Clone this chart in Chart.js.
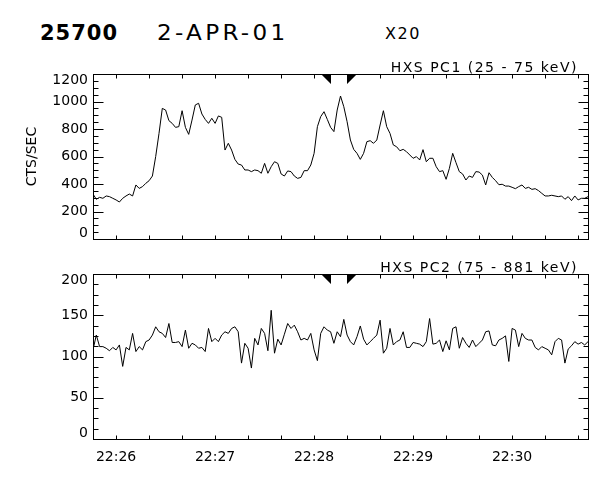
<!DOCTYPE html>
<html>
<head>
<meta charset="utf-8">
<script src="https://cdn.jsdelivr.net/npm/chart.js@4.4.1/dist/chart.umd.min.js"></script>
<style>
  html, body { margin: 0; padding: 0; background: #fff; }
  #wrap { position: relative; width: 600px; height: 480px; overflow: hidden;
          font-family: 'DejaVu Sans', sans-serif; color: #000; }
  .hdr { position: absolute; white-space: nowrap; line-height: 1; }
  #hdr-num  { left: 40px;  top: 23px; font-size: 21px; font-weight: bold; letter-spacing: 1px; }
  #hdr-date { left: 157px; top: 23px; font-size: 21px; letter-spacing: 3px;
              transform: scaleX(1.1); transform-origin: left center; }
  #hdr-x    { left: 385px; top: 26px; font-size: 16px; letter-spacing: 1.5px; }
  canvas { position: absolute; left: 0; }
  #pc1 { top: 0; }
  #pc2 { top: 250px; }
</style>
</head>
<body>
<div id="wrap">
  <div class="hdr" id="hdr-num"></div>
  <div class="hdr" id="hdr-date"></div>
  <div class="hdr" id="hdr-x"></div>
  <canvas id="pc1" width="600" height="250"></canvas>
  <canvas id="pc2" width="600" height="230"></canvas>
</div>
<script>
// ── HXS light curves, two panels ──

const FONT = "'DejaVu Sans', sans-serif";

const HEADER      = ['25700', '2-APR-01', 'X20'];
const START_TIME  = '22:25:46';
const END_TIME    = '22:30:46';
const CADENCE_S   = 2;
const TIME_LABELS = ['22:26', '22:27', '22:28', '22:29', '22:30'];
const MARK_TIMES  = ['22:28:10', '22:28:20'];
const Y_TITLE     = 'CTS/SEC';

const PC1_LABEL = 'HXS PC1 (25 - 75 keV)';
const PC1_TICKS = [0, 200, 400, 600, 800, 1000, 1200];
const PC1_COUNTS = [
  327, 289, 303, 296, 313, 308, 296, 284, 269, 296,
  313, 327, 313, 393, 368, 381, 405, 424, 458, 600,
  768, 950, 938, 861, 841, 812, 817, 933, 812, 761,
  865, 975, 987, 909, 870, 841, 878, 841, 895, 885,
  647, 696, 647, 579, 545, 538, 502, 502, 490, 502,
  497, 478, 550, 478, 526, 562, 550, 473, 458, 495,
  490, 458, 441, 448, 497, 497, 538, 623, 817, 890,
  926, 870, 812, 781, 938, 1040, 962, 853, 720, 652,
  623, 579, 623, 708, 715, 696, 720, 829, 933, 817,
  768, 684, 671, 642, 652, 635, 611, 587, 599, 575,
  650, 562, 587, 587, 526, 490, 497, 434, 514, 623,
  555, 490, 473, 429, 458, 448, 490, 487, 465, 393,
  482, 448, 424, 395, 398, 385, 385, 376, 366, 381,
  393, 368, 376, 361, 366, 352, 332, 313, 313, 318,
  313, 308, 313, 289, 308, 279, 313, 284, 296, 296, 308
];

const PC2_LABEL = 'HXS PC2 (75 - 881 keV)';
const PC2_TICKS = [0, 50, 100, 150, 200];
const PC2_COUNTS = [
  108, 126, 112, 112, 110, 107, 111, 108, 114, 88,
  111, 108, 128, 106, 112, 108, 118, 120, 126, 136,
  130, 128, 123, 140, 117, 117, 118, 112, 132, 110,
  116, 114, 110, 111, 106, 134, 118, 122, 118, 126,
  130, 128, 134, 136, 130, 92, 116, 110, 86, 122,
  114, 134, 128, 107, 156, 104, 121, 114, 127, 140,
  134, 138, 130, 120, 122, 120, 128, 108, 95, 128,
  136, 132, 130, 116, 130, 124, 145, 126, 118, 114,
  124, 137, 121, 114, 118, 122, 126, 144, 104, 110,
  134, 114, 118, 120, 130, 111, 111, 117, 116, 115,
  112, 118, 146, 115, 116, 120, 106, 119, 108, 134,
  136, 110, 123, 116, 111, 120, 112, 116, 120, 130,
  131, 114, 113, 120, 122, 125, 94, 134, 132, 112,
  128, 122, 120, 120, 111, 108, 112, 110, 108, 102,
  118, 122, 120, 92, 109, 113, 118, 115, 117, 114, 118
];

function toSec(s) {
  const p = s.split(':').map(Number);
  return p[0] * 3600 + p[1] * 60 + (p[2] || 0);
}

function toPoints(values) {
  const t0 = toSec(START_TIME);
  return values.map((v, i) => ({ x: t0 + i * CADENCE_S, y: v }));
}

// IDL style frame: box, inward ticks on all four sides, interval marks, channel label
const idlFrame = {
  id: 'idlFrame',
  afterDraw(chart, args, opts) {
    const { ctx, chartArea: a, scales: { x, y } } = chart;
    const L = Math.round(a.left) + 0.5, R = Math.round(a.right) + 0.5;
    const T = Math.round(a.top) + 0.5,  B = Math.round(a.bottom) + 0.5;
    ctx.save();
    ctx.strokeStyle = '#000';
    ctx.fillStyle = '#000';
    ctx.lineWidth = 1;
    ctx.strokeRect(L, T, R - L, B - T);

    ctx.beginPath();
    const major = y.ticks[1].value - y.ticks[0].value;
    const minor = major / opts.yMinor;
    for (let v = y.min; v <= y.max + 1e-6; v += minor) {
      const py = Math.round(y.getPixelForValue(v)) + 0.5;
      const len = Math.abs(v / major - Math.round(v / major)) < 1e-6 ? 10 : 5;
      ctx.moveTo(L, py); ctx.lineTo(L + len, py);
      ctx.moveTo(R, py); ctx.lineTo(R - len, py);
    }
    const first = Math.ceil(x.min / opts.xStep) * opts.xStep;
    for (let t = first; t <= x.max; t += opts.xStep) {
      const px = Math.round(x.getPixelForValue(t)) + 0.5;
      ctx.moveTo(px, B); ctx.lineTo(px, B - 4);
      ctx.moveTo(px, T); ctx.lineTo(px, T + 4);
    }
    ctx.stroke();

    const [m0, m1] = MARK_TIMES.map(s => Math.round(x.getPixelForValue(toSec(s))));
    const top = Math.round(a.top);
    ctx.beginPath();
    ctx.moveTo(m0 - 10, top); ctx.lineTo(m0, top); ctx.lineTo(m0, top + 10); ctx.closePath();
    ctx.moveTo(m1, top); ctx.lineTo(m1 + 10, top); ctx.lineTo(m1, top + 10); ctx.closePath();
    ctx.fill();

    ctx.font = `14px ${FONT}`;
    ctx.letterSpacing = '1.5px';
    ctx.textAlign = 'right';
    ctx.textBaseline = 'alphabetic';
    ctx.fillText(opts.label, a.right - 10, a.top - 2);
    ctx.restore();
  }
};

function yAxis(ticks, title) {
  return {
    min: ticks[0],
    max: ticks[ticks.length - 1],
    afterBuildTicks: s => { s.ticks = ticks.map(v => ({ value: v })); },
    afterFit: s => { s.width = 93; s.paddingTop = 0; s.paddingBottom = 0; },
    grid: { display: false, drawTicks: false },
    border: { display: false },
    ticks: {
      padding: 5,
      autoSkip: false,
      color: '#000',
      font: { family: FONT, size: 14, lineHeight: 0.85 },
      // end labels sit inside the box, as in the original plot
      callback: (v, i, all) => i === 0 ? [String(v), ''] : i === all.length - 1 ? ['', String(v)] : String(v)
    },
    title: {
      display: !!title,
      text: title || '',
      color: '#000',
      font: { family: FONT, size: 14 },
      padding: { top: 24, bottom: 0 }
    }
  };
}

function xAxis(showLabels) {
  return {
    type: 'linear',
    display: showLabels,
    min: toSec(START_TIME),
    max: toSec(END_TIME),
    afterBuildTicks: s => { s.ticks = TIME_LABELS.map(l => ({ value: toSec(l) })); },
    afterFit: s => { s.height = showLabels ? 41 : 0; s.paddingLeft = 0; s.paddingRight = 0; },
    grid: { display: false, drawTicks: false },
    border: { display: false },
    ticks: {
      padding: 10,
      autoSkip: false,
      maxRotation: 0,
      color: '#000',
      font: { family: FONT, size: 14 },
      callback: (v, i) => TIME_LABELS[i]
    }
  };
}

function buildPanel(id, values, ticks, label, yTitle, showX, padding) {
  return new Chart(document.getElementById(id), {
    type: 'line',
    data: {
      datasets: [{
        data: toPoints(values),
        borderColor: '#000',
        borderWidth: 1,
        pointRadius: 0,
        tension: 0
      }]
    },
    options: {
      responsive: false,
      animation: false,
      devicePixelRatio: 1,
      layout: { padding },
      plugins: {
        legend: { display: false },
        tooltip: { enabled: false },
        idlFrame: { label, yMinor: 4, xStep: 20 }
      },
      scales: { x: xAxis(showX), y: yAxis(ticks, yTitle) }
    },
    plugins: [idlFrame]
  });
}

document.getElementById('hdr-num').textContent  = HEADER[0];
document.getElementById('hdr-date').textContent = HEADER[1];
document.getElementById('hdr-x').textContent    = HEADER[2];

buildPanel('pc1', PC1_COUNTS, PC1_TICKS, PC1_LABEL, Y_TITLE, false,
           { top: 74, right: 12, bottom: 11, left: 0 });
buildPanel('pc2', PC2_COUNTS, PC2_TICKS, PC2_LABEL, null, true,
           { top: 24, right: 12, bottom: 0, left: 0 });
</script>
</body>
</html>
